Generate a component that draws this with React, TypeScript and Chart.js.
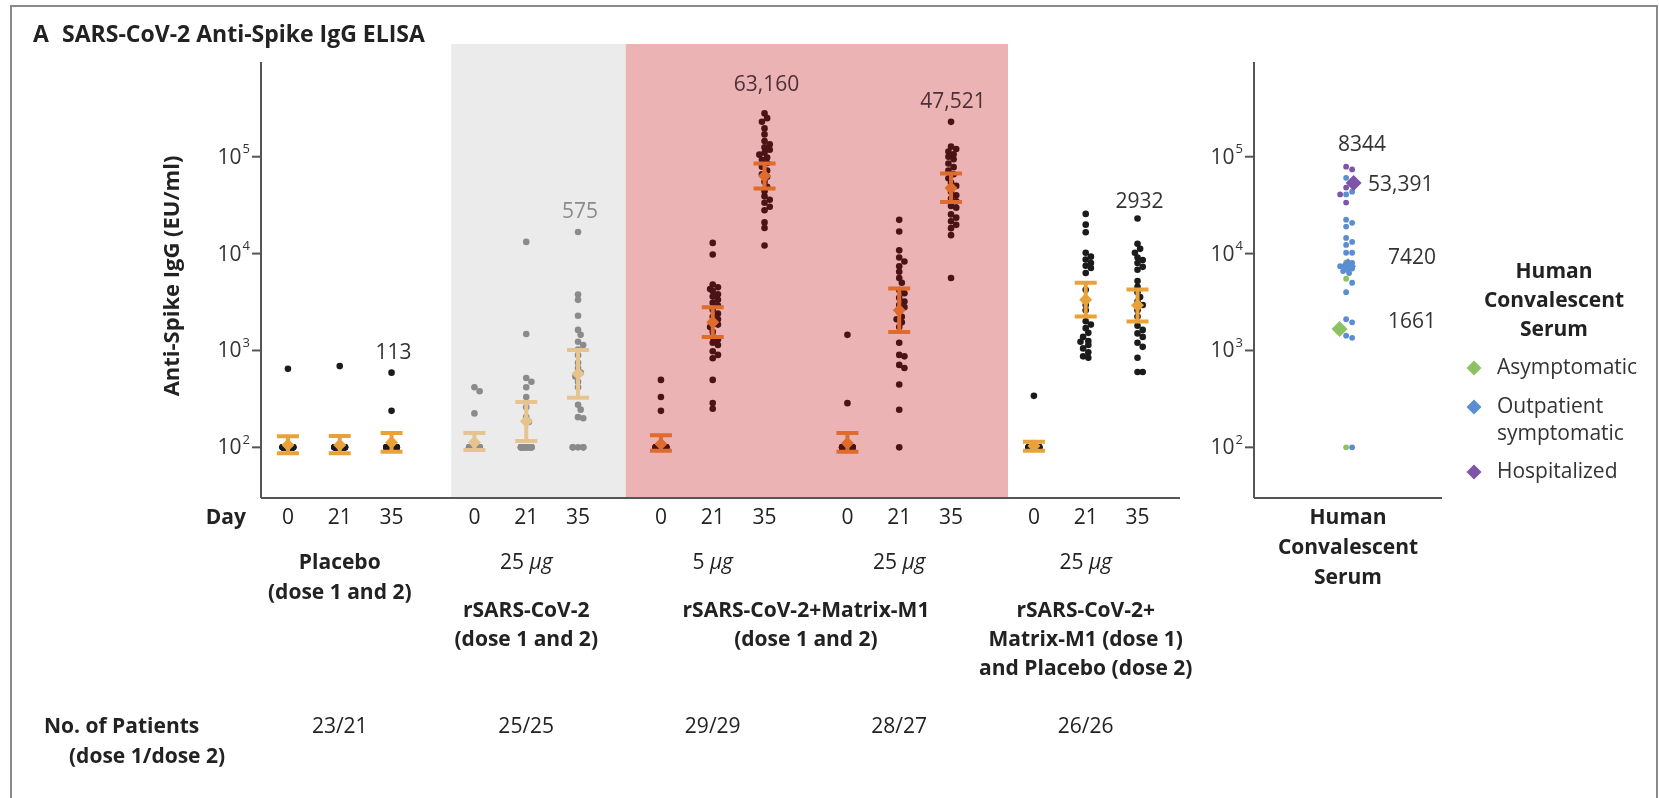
import React, { useEffect, useRef } from "react";
import { Chart, registerables } from "chart.js";

Chart.register(...registerables);

const FONT = '"Open Sans", Lato, "DejaVu Sans", sans-serif';

// ---------------- categories & labels ----------------
const dayTickLabels = ["0", "21", "35"];
const doseLabels = ["", "25", "5", "25", "25"];
const patientCounts = ["23/21", "25/25", "29/29", "28/27", "26/26"];
const yTickValues = [100, 1000, 10000, 100000];
const yTickExponents = ["2", "3", "4", "5"];
const legendLabels = [["Asymptomatic"], ["Outpatient", "symptomatic"], ["Hospitalized"]];
const gmtLabels = ["", "", "113", "", "", "575", "", "", "63,160", "", "", "47,521", "", "", "2932"];
const convGmtLabels = ["1661", "7420", "53,391"];
const convOverallLabel = "8344";

// ---------------- series values (EU/ml) ----------------
const placeboDay0 = [646, 100, 100, 100, 100, 100, 100, 100, 100, 100, 100, 100, 100, 100, 100, 100, 100, 100, 100, 100, 100, 100, 100];
const placeboDay21 = [690, 100, 100, 100, 100, 100, 100, 100, 100, 100, 100, 100, 100, 100, 100, 100, 100, 100, 100, 100, 100, 100, 100];
const placeboDay35 = [590, 238, 100, 100, 100, 100, 100, 100, 100, 100, 100, 100, 100, 100, 100, 100, 100, 100, 100, 100, 100];

const rsDay0 = [417, 380, 224, 100, 100, 100, 100, 100, 100, 100, 100, 100, 100, 100, 100, 100, 100, 100, 100, 100, 100, 100, 100, 100, 100];
const rsDay21 = [13200, 1480, 520, 475, 417, 330, 260, 205, 183, 100, 100, 100, 100, 100, 100, 100, 100, 100, 100, 100, 100, 100, 100, 100, 100];
const rsDay35 = [16700, 3780, 3330, 2280, 1630, 1450, 1230, 1140, 1020, 890, 745, 660, 590, 540, 475, 417, 275, 245, 205, 200, 100, 100, 100, 100, 100];

const m5Day0 = [497, 331, 238, 100, 100, 100, 100, 100, 100, 100, 100, 100, 100, 100, 100, 100, 100, 100, 100, 100, 100, 100, 100, 100, 100, 100, 100, 100, 100];
const m5Day21 = [12900, 9800, 4800, 4500, 4300, 4100, 3800, 3600, 3330, 3100, 2900, 2640, 2400, 2230, 2100, 1970, 1850, 1750, 1560, 1380, 1300, 1200, 1140, 980, 900, 830, 497, 287, 250];
const m5Day35 = [280000, 250000, 230000, 196000, 170000, 145000, 134000, 125000, 118000, 110000, 105000, 98000, 93000, 86000, 79000, 72000, 66000, 62000, 55000, 49000, 44000, 39000, 36000, 33500, 30500, 28000, 21000, 18400, 12100];

const m25Day0 = [1450, 286, 100, 100, 100, 100, 100, 100, 100, 100, 100, 100, 100, 100, 100, 100, 100, 100, 100, 100, 100, 100, 100, 100, 100, 100, 100, 100];
const m25Day21 = [22300, 16900, 10800, 9100, 8300, 7400, 6500, 5600, 5000, 4200, 3900, 3500, 3200, 2950, 2800, 2500, 2230, 2100, 1950, 1750, 1200, 900, 870, 710, 660, 445, 244, 100];
const m25Day35 = [229000, 127000, 120000, 113000, 106000, 100000, 94000, 85000, 78000, 72000, 66000, 60000, 54000, 50000, 43600, 40000, 37000, 34600, 31000, 29800, 25400, 23500, 21600, 19800, 18300, 15500, 5600];

const mpDay0 = [340, 100, 100, 100, 100, 100, 100, 100, 100, 100, 100, 100, 100, 100, 100, 100, 100, 100, 100, 100, 100, 100, 100, 100, 100, 100];
const mpDay21 = [25700, 19900, 16600, 10200, 9300, 8700, 8000, 7500, 7100, 6300, 4240, 3340, 2950, 2600, 2000, 1850, 1700, 1520, 1380, 1250, 1230, 1140, 1050, 960, 870, 840];
const mpDay35 = [23000, 12600, 11200, 10200, 9100, 8600, 8000, 7300, 6800, 5200, 4550, 4000, 3570, 3200, 2950, 2600, 2240, 1800, 1630, 1500, 1380, 1200, 1090, 840, 600, 600];

const gmtValues = [106, 106, 112, 112, 186, 575, 108, 1950, 63160, 110, 2600, 47521, 103, 3340, 2932];
const ciLower = [87, 87, 90, 94, 116, 325, 92, 1380, 47000, 90, 1550, 34000, 92, 2240, 1990];
const ciUpper = [130, 131, 141, 141, 293, 1010, 133, 2800, 85000, 141, 4370, 67000, 114, 5000, 4250];

// Human convalescent serum
const convAsymptomatic = [8100, 5500, 100];
const convOutpatient = [60600, 55000, 43600, 40800, 22400, 20800, 19000, 14500, 13200, 12300, 10200, 10200, 8000, 7400, 7400, 7000, 6600, 6300, 5000, 4000, 2100, 1950, 1420, 1350, 100];
const convHospitalized = [79000, 74000, 48000, 40800, 33600];
const convGmt = [1661, 7420, 53391];

// ---------------- styles & layout ----------------
const W = 1659;
const H = 798;
const Y_MIN = 30;
const Y_MAX = 950000;
const PX_PER_DECADE = 436 / Math.log10(Y_MAX / Y_MIN);
const GROUP_STEP = 3.6;
const X_MIN = -0.52;
const X_MAX = 17.22;
const MAIN_AREA = { left: 261, right: 1180, top: 62, bottom: 498 };
const CONV_AREA = { left: 1254, right: 1442, top: 62, bottom: 498 };
const dotColors = ["#1b1b1b", "#8b8b8b", "#4a1417", "#4a1417", "#1b1b1b"];
const markerColors = ["#E9A23B", "#E7C38E", "#DF6B2D", "#DF6B2D", "#E9A23B"];
const labelColors = ["#333333", "#8b8b8b", "#4d3038", "#4d3038", "#333333"];
const labelLift = [0, 0, 20, 0, 0, 20, 0, 0, 28, 0, 0, 20, 0, 0, 17];
const convColors = ["#8DC264", "#5B8DD3", "#7C55A8"];
const shadeRegions = [
  { from: 3.15, to: 6.52, color: "#ebebeb" },
  { from: 6.52, to: 13.9, color: "#ebb3b3" },
];
const AXIS_COLOR = "#555555";
const TEXT_COLOR = "#222222";
const FS = 21;

const columns = [
  placeboDay0, placeboDay21, placeboDay35,
  rsDay0, rsDay21, rsDay35,
  m5Day0, m5Day21, m5Day35,
  m25Day0, m25Day21, m25Day35,
  mpDay0, mpDay21, mpDay35,
];
const colX = (c: number) => Math.floor(c / 3) * GROUP_STEP + (c % 3);

// deterministic beeswarm offsets (layout only)
function swarm(values: number[], pxPerX: number, step: number, maxK: number, minD: number) {
  const order = values.map((_, i) => i).sort((a, b) => values[b] - values[a]);
  const placed: { ox: number; oy: number }[] = [];
  const offs: number[] = new Array(values.length).fill(0);
  const cands: number[] = [0];
  for (let k = 1; k <= maxK; k++) { cands.push(k * step, -k * step); }
  order.forEach((i, n) => {
    const oy = Math.log10(values[i]) * PX_PER_DECADE;
    let chosen: number | null = null;
    for (const off of cands) {
      if (placed.every((p) => Math.hypot(p.ox - off, p.oy - oy) >= minD)) { chosen = off; break; }
    }
    if (chosen === null) chosen = cands[n % cands.length];
    placed.push({ ox: chosen, oy });
    offs[i] = chosen / pxPerX;
  });
  return offs;
}

function text(ctx: CanvasRenderingContext2D, s: string, x: number, y: number, o: any = {}) {
  const { size = FS, weight = "normal", style = "normal", align = "center", color = TEXT_COLOR } = o;
  ctx.save();
  ctx.font = `${style} ${weight} ${size}px ${FONT}`;
  ctx.fillStyle = color;
  ctx.textAlign = align;
  ctx.textBaseline = "middle";
  ctx.fillText(s, x, y);
  ctx.restore();
}

function doseText(ctx: CanvasRenderingContext2D, num: string, cx: number, y: number) {
  ctx.save();
  ctx.font = `normal ${FS}px ${FONT}`;
  const a = ctx.measureText(num + " ").width;
  ctx.font = `italic ${FS}px ${FONT}`;
  const b = ctx.measureText("µg").width;
  const x0 = cx - (a + b) / 2;
  ctx.restore();
  text(ctx, num + " ", x0, y, { align: "left" });
  text(ctx, "µg", x0 + a, y, { align: "left", style: "italic" });
}

function drawYAxis(ctx: CanvasRenderingContext2D, chart: any) {
  const { left, top, bottom } = chart.chartArea;
  const y = chart.scales.y;
  ctx.save();
  ctx.strokeStyle = AXIS_COLOR;
  ctx.lineWidth = 2;
  ctx.beginPath();
  ctx.moveTo(left, top);
  ctx.lineTo(left, bottom);
  ctx.stroke();
  yTickValues.forEach((v, i) => {
    const py = y.getPixelForValue(v);
    ctx.beginPath();
    ctx.moveTo(left - 9, py);
    ctx.lineTo(left, py);
    ctx.stroke();
    ctx.font = `normal 13px ${FONT}`;
    const sw = ctx.measureText(yTickExponents[i]).width;
    const xr = left - 11;
    text(ctx, yTickExponents[i], xr, py - 7, { size: 13, align: "right", color: "#333" });
    text(ctx, "10", xr - sw - 1, py + 1, { size: FS, align: "right", color: "#333" });
  });
  ctx.restore();
}

function drawDiamond(ctx: CanvasRenderingContext2D, x: number, y: number, r: number, color: string) {
  ctx.save();
  ctx.fillStyle = color;
  ctx.beginPath();
  ctx.moveTo(x, y - r);
  ctx.lineTo(x + r, y);
  ctx.lineTo(x, y + r);
  ctx.lineTo(x - r, y);
  ctx.closePath();
  ctx.fill();
  ctx.restore();
}

const mainPlugin = {
  id: "mainDecor",
  beforeDraw(chart: any) {
    const ctx = chart.ctx;
    ctx.save();
    ctx.fillStyle = "#ffffff";
    ctx.fillRect(0, 0, W, H);
    ctx.strokeStyle = "#8a8a8a";
    ctx.lineWidth = 2;
    ctx.strokeRect(11, 6, 1646, 900);
    ctx.restore();
  },
  beforeDatasetsDraw(chart: any) {
    const ctx = chart.ctx;
    const { top, bottom, left, right } = chart.chartArea;
    const x = chart.scales.x;
    ctx.save();
    shadeRegions.forEach((r) => {
      const x0 = x.getPixelForValue(r.from);
      const x1 = x.getPixelForValue(r.to);
      ctx.fillStyle = r.color;
      ctx.fillRect(x0, top - 18, x1 - x0, bottom - top + 18);
    });
    ctx.strokeStyle = AXIS_COLOR;
    ctx.lineWidth = 2;
    ctx.beginPath();
    ctx.moveTo(left, bottom);
    ctx.lineTo(right, bottom);
    ctx.stroke();
    ctx.restore();
    drawYAxis(ctx, chart);
  },
  beforeDatasetDraw(chart: any, args: any) {
    if (args.index !== 0) return;
    const ctx = chart.ctx;
    const x = chart.scales.x;
    const y = chart.scales.y;
    ctx.save();
    columns.forEach((_, c) => {
      const px = x.getPixelForValue(colX(c));
      const lo = y.getPixelForValue(ciLower[c]);
      const hi = y.getPixelForValue(ciUpper[c]);
      ctx.strokeStyle = markerColors[Math.floor(c / 3)];
      ctx.lineWidth = 4;
      ctx.lineCap = "butt";
      ctx.beginPath();
      ctx.moveTo(px, lo);
      ctx.lineTo(px, hi);
      ctx.moveTo(px - 11, lo);
      ctx.lineTo(px + 11, lo);
      ctx.moveTo(px - 11, hi);
      ctx.lineTo(px + 11, hi);
      ctx.stroke();
    });
    ctx.restore();
  },
  afterDraw(chart: any) {
    const ctx = chart.ctx;
    const x = chart.scales.x;
    const y = chart.scales.y;
    // title
    text(ctx, "A", 33, 35, { size: 23, weight: "bold", align: "left" });
    text(ctx, "SARS-CoV-2 Anti-Spike IgG ELISA", 62, 35, { size: 23, weight: "bold", align: "left" });
    // y title
    ctx.save();
    ctx.translate(173, 276);
    ctx.rotate(-Math.PI / 2);
    text(ctx, "Anti-Spike IgG (EU/ml)", 0, 0, { size: 22, weight: "bold" });
    ctx.restore();
    // day ticks
    text(ctx, "Day", 246, 518, { weight: "bold", align: "right" });
    columns.forEach((vals, c) => {
      const px = x.getPixelForValue(colX(c));
      text(ctx, dayTickLabels[c % 3], px, 518);
      if (gmtLabels[c]) {
        const top = y.getPixelForValue(Math.max(...vals));
        text(ctx, gmtLabels[c], px + 2, top - labelLift[c], { color: labelColors[Math.floor(c / 3)] });
      }
    });
    const gc = (g: number) => x.getPixelForValue(g * GROUP_STEP + 1);
    // dose labels
    text(ctx, "Placebo", gc(0), 563, { weight: "bold" });
    text(ctx, "(dose 1 and 2)", gc(0), 593, { weight: "bold" });
    for (let g = 1; g < 5; g++) doseText(ctx, doseLabels[g], gc(g), 563);
    text(ctx, "rSARS-CoV-2", gc(1), 611, { weight: "bold" });
    text(ctx, "(dose 1 and 2)", gc(1), 640, { weight: "bold" });
    const mid = (gc(2) + gc(3)) / 2;
    text(ctx, "rSARS-CoV-2+Matrix-M1", mid, 611, { weight: "bold" });
    text(ctx, "(dose 1 and 2)", mid, 640, { weight: "bold" });
    text(ctx, "rSARS-CoV-2+", gc(4), 611, { weight: "bold" });
    text(ctx, "Matrix-M1 (dose 1)", gc(4), 640, { weight: "bold" });
    text(ctx, "and Placebo (dose 2)", gc(4), 669, { weight: "bold" });
    // patients
    text(ctx, "No. of Patients", 44, 727, { weight: "bold", align: "left" });
    text(ctx, "(dose 1/dose 2)", 69, 757, { weight: "bold", align: "left" });
    patientCounts.forEach((p, g) => text(ctx, p, gc(g), 727));
  },
};

const convPlugin = {
  id: "convDecor",
  beforeDatasetsDraw(chart: any) {
    const ctx = chart.ctx;
    const { left, right, bottom } = chart.chartArea;
    ctx.save();
    ctx.strokeStyle = AXIS_COLOR;
    ctx.lineWidth = 2;
    ctx.beginPath();
    ctx.moveTo(left, bottom);
    ctx.lineTo(right, bottom);
    ctx.stroke();
    ctx.restore();
    drawYAxis(ctx, chart);
  },
  afterDraw(chart: any) {
    const ctx = chart.ctx;
    const x = chart.scales.x;
    const y = chart.scales.y;
    const cx = x.getPixelForValue(0);
    const topAll = Math.max(...convAsymptomatic, ...convOutpatient, ...convHospitalized);
    text(ctx, convOverallLabel, cx + 14, y.getPixelForValue(topAll) - 22, { color: "#333" });
    text(ctx, convGmtLabels[2], cx + 20, y.getPixelForValue(convGmt[2]) + 2, { align: "left", color: "#333" });
    text(ctx, convGmtLabels[1], cx + 40, y.getPixelForValue(convGmt[1]) - 8, { align: "left", color: "#333" });
    text(ctx, convGmtLabels[0], cx + 40, y.getPixelForValue(convGmt[0]) - 7, { align: "left", color: "#333" });
    // x label
    text(ctx, "Human", cx, 518, { weight: "bold" });
    text(ctx, "Convalescent", cx, 548, { weight: "bold" });
    text(ctx, "Serum", cx, 578, { weight: "bold" });
    // legend
    const lx = 1554;
    text(ctx, "Human", lx, 272, { weight: "bold" });
    text(ctx, "Convalescent", lx, 301, { weight: "bold" });
    text(ctx, "Serum", lx, 330, { weight: "bold" });
    const ys = [368, 407, 472];
    legendLabels.forEach((lines, i) => {
      drawDiamond(ctx, 1474, ys[i], 7.5, convColors[i]);
      lines.forEach((l, j) => text(ctx, l, 1497, ys[i] + j * 27, { align: "left", color: "#333" }));
    });
  },
};

export default function App() {
  const mainRef = useRef<HTMLCanvasElement>(null);
  const convRef = useRef<HTMLCanvasElement>(null);

  useEffect(() => {
    const mainPxPerX = (MAIN_AREA.right - MAIN_AREA.left) / (X_MAX - X_MIN);
    const dotSets = columns.map((vals, c) => {
      const offs = swarm(vals, mainPxPerX, 2.6, 2, 5);
      return {
        type: "scatter" as const,
        data: vals.map((v, i) => ({ x: colX(c) + offs[i], y: v })),
        pointRadius: 3.3,
        pointBorderWidth: 0,
        pointBackgroundColor: dotColors[Math.floor(c / 3)],
        pointHoverRadius: 3.3,
      };
    });
    const diamondSet = {
      type: "scatter" as const,
      data: columns.map((_, c) => ({ x: colX(c), y: gmtValues[c] })),
      pointStyle: "rectRot",
      pointRadius: 6.5,
      pointBorderWidth: 0,
      pointBackgroundColor: columns.map((_, c) => markerColors[Math.floor(c / 3)]),
    };
    const main = new Chart(mainRef.current!, {
      type: "scatter",
      data: { datasets: [diamondSet as any, ...dotSets] },
      options: {
        animation: false,
        responsive: false,
        events: [],
        layout: {
          padding: { left: MAIN_AREA.left, right: W - MAIN_AREA.right, top: MAIN_AREA.top, bottom: H - MAIN_AREA.bottom },
        },
        plugins: { legend: { display: false }, tooltip: { enabled: false } },
        scales: {
          x: { type: "linear", min: X_MIN, max: X_MAX, display: false },
          y: { type: "logarithmic", min: Y_MIN, max: Y_MAX, display: false },
        },
      },
      plugins: [mainPlugin],
    });

    // convalescent panel
    const convPxPerX = (CONV_AREA.right - CONV_AREA.left) / 2;
    const convAll = [...convAsymptomatic, ...convOutpatient, ...convHospitalized];
    const convCat = [
      ...convAsymptomatic.map(() => 0),
      ...convOutpatient.map(() => 1),
      ...convHospitalized.map(() => 2),
    ];
    const convOffs = swarm(convAll, convPxPerX, 3, 2, 5.2);
    const convSets = [0, 1, 2].map((k) => ({
      type: "scatter" as const,
      data: convAll
        .map((v, i) => ({ x: convOffs[i] - 0.02, y: v, k: convCat[i] }))
        .filter((p) => p.k === k),
      pointRadius: 2.9,
      pointBorderWidth: 0,
      pointBackgroundColor: convColors[k],
    }));
    const convDiamonds = {
      type: "scatter" as const,
      data: convGmt.map((v, k) => ({ x: [-0.09, 0, 0.06][k], y: v })),
      pointStyle: "rectRot",
      pointRadius: 8,
      pointBorderWidth: 0,
      pointBackgroundColor: convColors,
    };
    const conv = new Chart(convRef.current!, {
      type: "scatter",
      data: { datasets: [convDiamonds as any, ...convSets.reverse()] },
      options: {
        animation: false,
        responsive: false,
        events: [],
        layout: {
          padding: { left: CONV_AREA.left, right: W - CONV_AREA.right, top: CONV_AREA.top, bottom: H - CONV_AREA.bottom },
        },
        plugins: { legend: { display: false }, tooltip: { enabled: false } },
        scales: {
          x: { type: "linear", min: -1, max: 1, display: false },
          y: { type: "logarithmic", min: Y_MIN, max: Y_MAX, display: false },
        },
      },
      plugins: [convPlugin],
    });
    return () => {
      main.destroy();
      conv.destroy();
    };
  }, []);

  return (
    <div style={{ position: "fixed", left: 0, top: 0, width: W, height: H, background: "#fff", overflow: "hidden" }}>
      <canvas ref={mainRef} width={W} height={H} style={{ position: "absolute", left: 0, top: 0, width: W, height: H }} />
      <canvas ref={convRef} width={W} height={H} style={{ position: "absolute", left: 0, top: 0, width: W, height: H }} />
    </div>
  );
}
